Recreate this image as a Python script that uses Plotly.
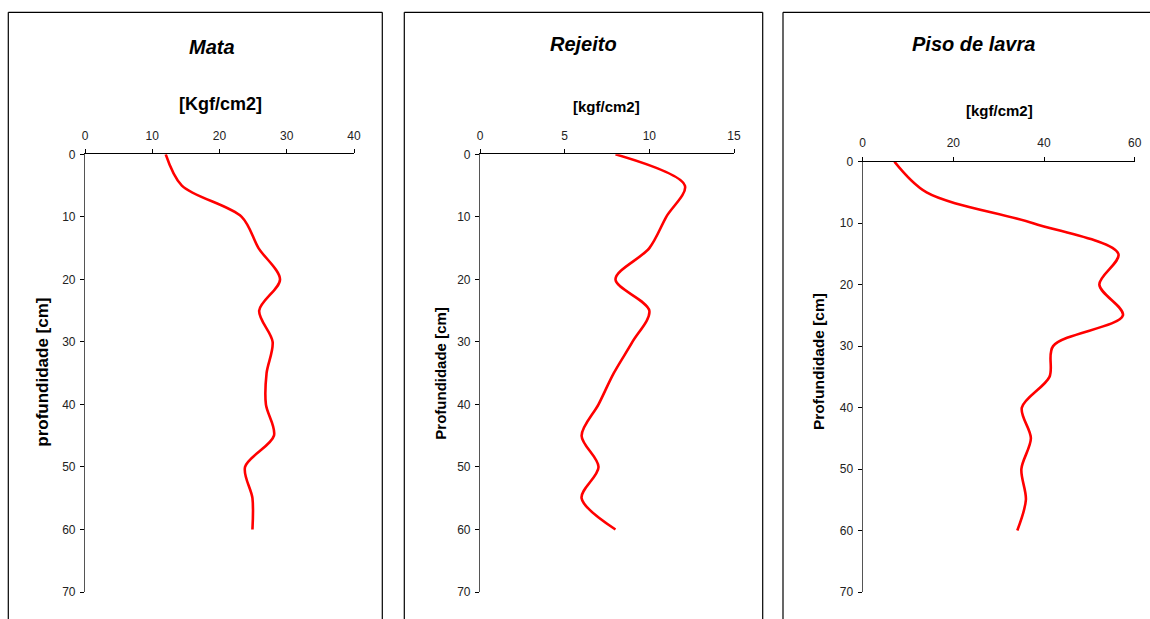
import plotly.graph_objects as go

W, H = 1150, 619

depth = [0, 5, 10, 15, 20, 25, 30, 35, 40, 45, 50, 55, 60]
mata = [12.0, 14.4, 23.3, 25.8, 29.0, 25.9, 27.9, 27.0, 26.9, 28.1, 23.8, 24.9, 24.9]
rejeito = [8.0, 12.1, 11.0, 10.0, 8.0, 10.0, 9.0, 7.9, 7.0, 6.0, 7.0, 6.0, 8.0]
piso = [7.0, 14.1, 37.6, 56.4, 52.2, 57.4, 42.0, 41.2, 35.1, 37.1, 35.0, 36.0, 34.1]

titles = ["Mata", "Rejeito", "Piso de lavra"]
xtitles = ["[Kgf/cm2]", "[kgf/cm2]", "[kgf/cm2]"]
ytitles = ["profundidade [cm]", "Profundidade [cm]", "Profundidade [cm]"]
xranges = [[0, 40], [0, 15], [0, 60]]
xdticks = [10, 5, 20]
yticks = [0, 10, 20, 30, 40, 50, 60, 70]

# window-pixel geometry of each plot area: (x0, x1, ytop, ybottom)
areas = [(85, 354, 154.3, 592), (480, 734, 154.3, 592), (862.7, 1134.7, 161.7, 592)]
boxes = [(8.3, 382.3), (404.3, 762.7), (783, None)]
title_pos = [(212, 47), (583, 44), (973, 44)]
xt_pos = [(220, 104), (606, 107), (999, 110)]
xt_size = [18, 15, 15]
yt_pos = [(41.7, 372), (440.7, 373), (818, 362)]
yt_size = [17, 15, 15.5]

series = [mata, rejeito, piso]
font = "Liberation Sans, Arial, sans-serif"


def px(x):
    return x / W


def py(y):
    return 1 - y / H


fig = go.Figure()
layout = dict(width=W, height=H, margin=dict(l=0, r=0, t=0, b=0, pad=0, autoexpand=False),
              paper_bgcolor="white", plot_bgcolor="white", showlegend=False)
annotations = []
shapes = []
border = dict(color="#000", width=1.2)
top_y = py(12.3)

for i in range(3):
    xa = "x" if i == 0 else f"x{i+1}"
    ya = "y" if i == 0 else f"y{i+1}"
    fig.add_trace(go.Scatter(x=series[i], y=depth, mode="lines",
                             line=dict(color="#FF0000", width=2.6, shape="spline", smoothing=0.9),
                             xaxis=xa, yaxis=ya, hoverinfo="skip", cliponaxis=False))
    x0, x1, yt, yb = areas[i]
    xkey = "xaxis" if i == 0 else f"xaxis{i+1}"
    ykey = "yaxis" if i == 0 else f"yaxis{i+1}"
    layout[xkey] = dict(domain=[px(x0), px(x1)], anchor=ya, side="top",
                        range=xranges[i], dtick=xdticks[i], tick0=0, automargin=False,
                        showgrid=False, zeroline=False, showline=True,
                        linecolor="#000", linewidth=1, ticks="outside",
                        ticklen=4, tickcolor="#000", tickwidth=1, ticklabelstandoff=5,
                        tickfont=dict(family=font, size=12, color="#222"))
    layout[ykey] = dict(domain=[py(yb), py(yt)], anchor=xa,
                        range=[70, 0], tickvals=yticks, automargin=False,
                        showgrid=False, zeroline=False, showline=True,
                        linecolor="#555", linewidth=1.2, ticks="outside",
                        ticklen=4, tickcolor="#000", tickwidth=1, ticklabelstandoff=2,
                        tickfont=dict(family=font, size=12, color="#222"))
    bx0, bx1 = boxes[i]
    right = px(bx1) if bx1 is not None else 1.0
    # panel frame: top, left and (if visible) right edges; bottom edge is off-screen
    shapes.append(dict(type="line", xref="paper", yref="paper",
                       x0=px(bx0), x1=right, y0=top_y, y1=top_y, line=border))
    shapes.append(dict(type="line", xref="paper", yref="paper",
                       x0=px(bx0), x1=px(bx0), y0=0, y1=top_y, line=border))
    if bx1 is not None:
        shapes.append(dict(type="line", xref="paper", yref="paper",
                           x0=px(bx1), x1=px(bx1), y0=0, y1=top_y, line=border))
    tx, ty = title_pos[i]
    annotations.append(dict(text=f"<b><i>{titles[i]}</i></b>", xref="paper", yref="paper",
                            x=px(tx), y=py(ty), showarrow=False, xanchor="center", yanchor="middle",
                            font=dict(family=font, size=20, color="#000")))
    ax, ay = xt_pos[i]
    annotations.append(dict(text=f"<b>{xtitles[i]}</b>", xref="paper", yref="paper",
                            x=px(ax), y=py(ay), showarrow=False, xanchor="center", yanchor="middle",
                            font=dict(family=font, size=xt_size[i], color="#000")))
    yx, yy = yt_pos[i]
    annotations.append(dict(text=f"<b>{ytitles[i]}</b>", xref="paper", yref="paper",
                            x=px(yx), y=py(yy), showarrow=False, xanchor="center", yanchor="middle",
                            textangle=-90,
                            font=dict(family=font, size=yt_size[i], color="#000")))

layout["annotations"] = annotations
layout["shapes"] = shapes
fig.update_layout(**layout)
fig.write_html("out.html", config={"displayModeBar": False},
               post_script="document.body.style.margin='0';document.body.style.overflow='hidden';")
